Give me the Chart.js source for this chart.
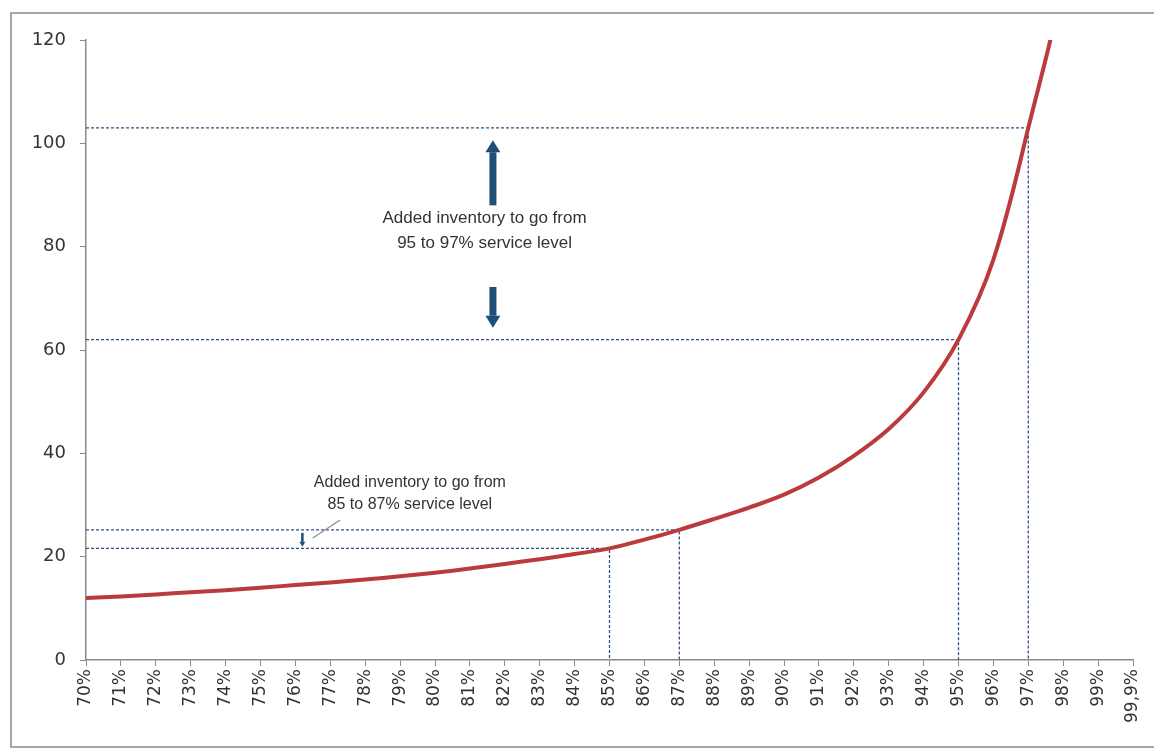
<!DOCTYPE html>
<html>
<head>
<meta charset="utf-8">
<script src="https://cdn.jsdelivr.net/npm/chart.js@4.4.1/dist/chart.umd.min.js"></script>
<style>
  html, body { margin: 0; padding: 0; background: #fff; overflow: hidden; }
  #frame { position: absolute; left: 10px; top: 12px; width: 1200px; height: 732px; border: 2px solid #a6a6a6; border-right: none; }
  #wrap { position: absolute; left: 0; top: 0; width: 1154px; height: 749px; }
</style>
</head>
<body>
<div id="frame"></div>
<div id="wrap"><canvas id="chart"></canvas></div>
<script>
// niveles de servicio (eje x) e inventario necesario (eje y)
const serviceLevels = ["70%", "71%", "72%", "73%", "74%", "75%", "76%", "77%", "78%", "79%",
  "80%", "81%", "82%", "83%", "84%", "85%", "86%", "87%", "88%", "89%",
  "90%", "91%", "92%", "93%", "94%", "95%", "96%", "97%", "98%", "99%", "99,9%"];
const inventory = [12.0, 12.3, 12.7, 13.1, 13.5, 14.0, 14.5, 15.0, 15.6, 16.2,
  16.9, 17.7, 18.6, 19.5, 20.5, 21.6, 23.3, 25.2, 27.3, 29.5,
  32.0, 35.3, 39.5, 44.7, 51.8, 62.0, 77.5, 103.0, 133.0, 200.0, 400.0];
const yMin = 0;
const yMax = 120;
const yStep = 20;

// niveles marcados con líneas guía
const guideLevels = ["85%", "87%", "95%", "97%"];

const guideDatasets = guideLevels.map((lvl) => {
  const v = inventory[serviceLevels.indexOf(lvl)];
  return {
    label: "guide " + lvl,
    data: [{ x: serviceLevels[0], y: v }, { x: lvl, y: v }, { x: lvl, y: 0 }],
    borderColor: "#2f5383",
    borderWidth: 1.3,
    borderDash: [3, 2],
    pointRadius: 0,
    tension: 0,
    order: 2,
  };
});

// anotaciones en coordenadas de datos (índice de categoría, valor)
const notes = [
  { x: 11.42, y: 85.5, text: "Added inventory to go from", size: 17 },
  { x: 11.42, y: 80.7, text: "95 to 97% service level", size: 17 },
  { x: 9.28, y: 34.3, text: "Added inventory to go from", size: 16 },
  { x: 9.28, y: 30.0, text: "85 to 87% service level", size: 16 },
];
const arrows = [
  { x: 11.66, from: 88.0, to: 100.6, shaft: 7, head: 15, headLen: 12 },
  { x: 11.66, from: 72.2, to: 64.3, shaft: 7, head: 15, headLen: 12 },
  { x: 6.2, from: 24.6, to: 21.9, shaft: 2.5, head: 6, headLen: 5 },
];
const leaders = [{ x1: 6.5, y1: 23.6, x2: 7.28, y2: 27.1 }];

const annotationPlugin = {
  id: "annotations",
  afterDatasetsDraw(chart) {
    const { ctx, scales } = chart;
    const xs = scales.x, ys = scales.y;
    ctx.save();
    // flechas
    ctx.fillStyle = "#1f4e79";
    arrows.forEach((a) => {
      const px = xs.getPixelForValue(a.x);
      const p0 = ys.getPixelForValue(a.from);
      const p1 = ys.getPixelForValue(a.to);
      const dir = p1 < p0 ? -1 : 1;
      const base = p1 - dir * a.headLen;
      ctx.fillRect(px - a.shaft / 2, Math.min(p0, base), a.shaft, Math.abs(base - p0));
      ctx.beginPath();
      ctx.moveTo(px - a.head / 2, base);
      ctx.lineTo(px + a.head / 2, base);
      ctx.lineTo(px, p1);
      ctx.closePath();
      ctx.fill();
    });
    // líneas guía del texto
    ctx.strokeStyle = "#8c8c8c";
    ctx.lineWidth = 1.2;
    leaders.forEach((l) => {
      ctx.beginPath();
      ctx.moveTo(xs.getPixelForValue(l.x1), ys.getPixelForValue(l.y1));
      ctx.lineTo(xs.getPixelForValue(l.x2), ys.getPixelForValue(l.y2));
      ctx.stroke();
    });
    // textos
    ctx.fillStyle = "#333333";
    ctx.textAlign = "center";
    ctx.textBaseline = "middle";
    notes.forEach((n) => {
      ctx.font = n.size + "px 'Liberation Sans', Arial, sans-serif";
      ctx.fillText(n.text, xs.getPixelForValue(n.x), ys.getPixelForValue(n.y));
    });
    ctx.restore();
  },
};

new Chart(document.getElementById("chart"), {
  type: "line",
  data: {
    labels: serviceLevels,
    datasets: [
      {
        label: "Inventory",
        data: inventory,
        borderColor: "#bb3a3c",
        borderWidth: 4,
        pointRadius: 0,
        tension: 0.35,
        order: 0,
      },
      ...guideDatasets,
    ],
  },
  options: {
    responsive: true,
    maintainAspectRatio: false,
    animation: false,
    layout: { padding: { top: 40, right: 21, bottom: 0, left: 0 } },
    plugins: { legend: { display: false }, tooltip: { enabled: false } },
    scales: {
      x: {
        type: "category",
        offset: false,
        afterFit: (s) => { s.height = 89; s.paddingRight = 0; s.paddingLeft = 0; },
        grid: { drawOnChartArea: false, drawTicks: true, tickLength: 6, color: "#8a8a8a" },
        border: { color: "#8a8a8a", width: 1.5 },
        ticks: {
          autoSkip: false, maxRotation: 90, minRotation: 90, padding: 3,
          color: "#333", font: { family: "'DejaVu Sans', sans-serif", size: 17 },
        },
      },
      y: {
        min: yMin,
        max: yMax,
        afterFit: (s) => { s.width = 86; },
        grid: { drawOnChartArea: false, drawTicks: true, tickLength: 6, color: "#8a8a8a" },
        border: { color: "#8a8a8a", width: 1.5 },
        ticks: {
          stepSize: yStep, padding: 14,
          color: "#333", font: { family: "'DejaVu Sans', sans-serif", size: 18 },
        },
      },
    },
  },
  plugins: [annotationPlugin],
});
</script>
</body>
</html>
